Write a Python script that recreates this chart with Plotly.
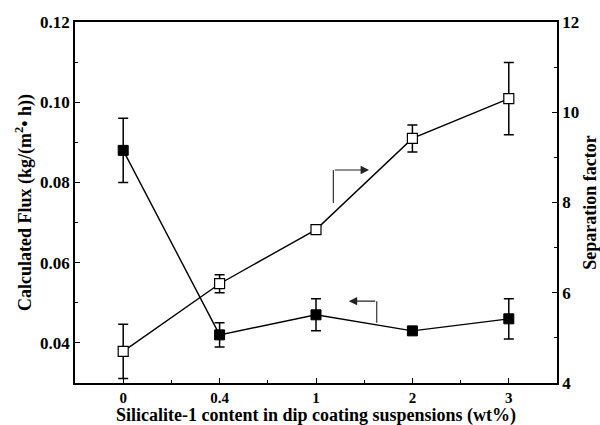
import plotly.graph_objects as go

# Silicalite-1 loading in the dip coating suspension (wt%)
categories = ["0", "0.4", "1", "2", "3"]

# Calculated flux, kg/(m2.h), with symmetric error
flux = [0.088, 0.042, 0.047, 0.043, 0.046]
flux_err = [0.008, 0.003, 0.004, 0.0005, 0.005]

# Separation factor, with symmetric error
sep = [4.7, 6.2, 7.4, 9.42, 10.3]
sep_err = [0.6, 0.2, 0.05, 0.3, 0.8]

xpos = list(range(len(categories)))
FONT = "Liberation Serif"

fig = go.Figure()

fig.add_trace(go.Scatter(
    x=xpos, y=flux, mode="lines+markers", yaxis="y",
    line=dict(color="black", width=1.4),
    marker=dict(symbol="square", size=10, color="black",
                line=dict(color="black", width=1)),
    error_y=dict(type="data", array=flux_err, visible=True,
                 color="black", thickness=1.5, width=5),
    showlegend=False,
))

fig.add_trace(go.Scatter(
    x=xpos, y=sep, mode="lines+markers", yaxis="y2",
    line=dict(color="black", width=1.4),
    marker=dict(symbol="square", size=10, color="white",
                line=dict(color="black", width=1.2)),
    error_y=dict(type="data", array=sep_err, visible=True,
                 color="black", thickness=1.5, width=5),
    showlegend=False,
))

# Pointer arrows telling which axis each curve belongs to
fig.add_shape(type="line", xref="x", yref="y2", x0=2.18, x1=2.18, y0=7.99, y1=8.72,
              line=dict(color="#333", width=1.2))
fig.add_annotation(xref="x", yref="y2", axref="x", ayref="y2",
                   x=2.55, y=8.72, ax=2.18, ay=8.72, text="", showarrow=True,
                   arrowhead=2, arrowsize=1.4, arrowwidth=1.2, arrowcolor="#222")
fig.add_shape(type="line", xref="x", yref="y", x0=2.63, x1=2.63, y0=0.045, y1=0.0504,
              line=dict(color="#333", width=1.2))
fig.add_annotation(xref="x", yref="y", axref="x", ayref="y",
                   x=2.34, y=0.0504, ax=2.63, ay=0.0504, text="", showarrow=True,
                   arrowhead=2, arrowsize=1.4, arrowwidth=1.2, arrowcolor="#222")

tickfont = dict(family=FONT, size=17, color="black", weight="bold")
xtickfont = dict(family=FONT, size=15, color="black", weight="bold")
titlefont = dict(family=FONT, size=18, color="black", weight="bold")

# x-axis title placed just under the tick labels
fig.add_annotation(xref="paper", yref="paper", x=0.5, y=0, yshift=-32,
                   xanchor="center", yanchor="middle", showarrow=False,
                   text="Silicalite-1 content in dip coating suspensions (wt%)",
                   font=titlefont)

fig.update_layout(
    width=600, height=425,
    margin=dict(l=75, r=43, t=22, b=42),
    paper_bgcolor="white", plot_bgcolor="white",
    font=dict(family=FONT, color="black"),
    xaxis=dict(
        range=[-0.5, 4.5], tickmode="array", tickvals=xpos, ticktext=categories,
        automargin=False,
        ticks="inside", ticklen=5, tickwidth=1.3, tickcolor="black",
        showline=True, linecolor="black", linewidth=1.6, mirror=True,
        showgrid=False, zeroline=False,
        tickfont=xtickfont,
        minor=dict(tickmode="linear", tick0=0.5, dtick=1, ticks="inside",
                   ticklen=3, tickwidth=1.3, tickcolor="black", showgrid=False),
    ),
    yaxis=dict(
        range=[0.03, 0.12], tickmode="linear", tick0=0.04, dtick=0.02,
        tickformat=".2f", automargin=False,
        ticks="inside", ticklen=5, tickwidth=1.3, tickcolor="black",
        showline=True, linecolor="black", linewidth=1.6,
        showgrid=False, zeroline=False, tickfont=tickfont,
        minor=dict(tickmode="linear", tick0=0.03, dtick=0.01, ticks="inside",
                   ticklen=3, tickwidth=1.3, tickcolor="black", showgrid=False),
        title=dict(text="Calculated Flux (kg/(m<sup>2</sup>• h))",
                   font=titlefont, standoff=4),
    ),
    yaxis2=dict(
        range=[4, 12], tickmode="linear", tick0=4, dtick=2,
        overlaying="y", side="right", automargin=False,
        ticks="inside", ticklen=5, tickwidth=1.3, tickcolor="black",
        showline=True, linecolor="black", linewidth=1.6,
        showgrid=False, zeroline=False, tickfont=tickfont,
        minor=dict(tickmode="linear", tick0=4, dtick=1, ticks="inside",
                   ticklen=3, tickwidth=1.3, tickcolor="black", showgrid=False),
        title=dict(text="Separation factor", font=titlefont, standoff=6),
    ),
)

fig.write_html("out.html")
